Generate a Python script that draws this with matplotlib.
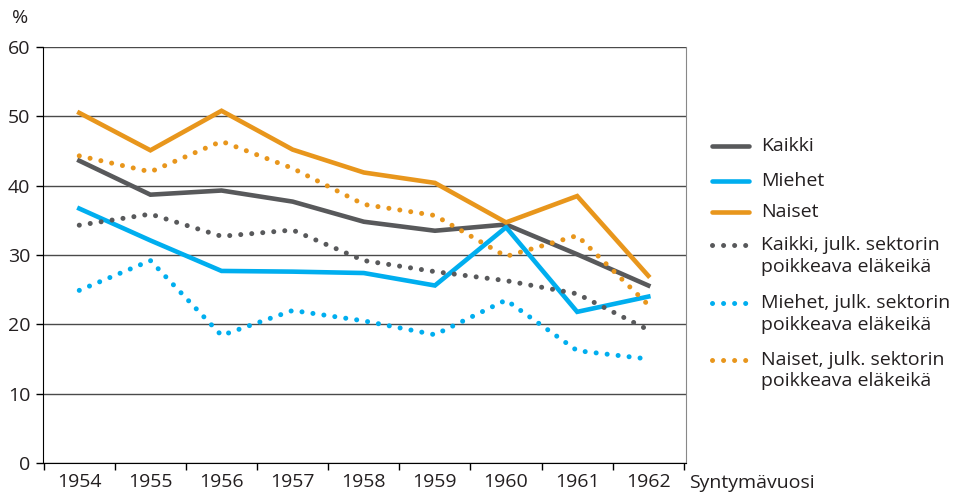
import matplotlib.pyplot as plt
from matplotlib.lines import Line2D
import numpy as np

plt.rcParams['font.family'] = ['Open Sans', 'DejaVu Sans']

years = ['1954', '1955', '1956', '1957', '1958', '1959', '1960', '1961', '1962']
kaikki = [43.6, 38.7, 39.3, 37.7, 34.8, 33.5, 34.4, 30.1, 25.6]
miehet = [36.7, 32.1, 27.7, 27.6, 27.4, 25.6, 34.0, 21.8, 24.0]
naiset = [50.5, 45.1, 50.8, 45.2, 41.9, 40.4, 34.7, 38.5, 27.0]
kaikki_julk = [34.3, 35.9, 32.7, 33.6, 29.2, 27.6, 26.3, 24.4, 19.2]
miehet_julk = [24.9, 29.2, 18.4, 22.0, 20.5, 18.5, 23.5, 16.2, 15.0]
naiset_julk = [44.3, 42.0, 46.4, 42.5, 37.3, 35.7, 29.8, 32.8, 22.8]

gray = '#58595b'
blue = '#00aeef'
orange = '#e8961c'
txt = '#231f20'

series = [
    ('Kaikki', kaikki, gray, '-'),
    ('Miehet', miehet, blue, '-'),
    ('Naiset', naiset, orange, '-'),
    ('Kaikki, julk. sektorin\npoikkeava eläkeikä', kaikki_julk, gray, ':'),
    ('Miehet, julk. sektorin\npoikkeava eläkeikä', miehet_julk, blue, ':'),
    ('Naiset, julk. sektorin\npoikkeava eläkeikä', naiset_julk, orange, ':'),
]

fig = plt.figure(figsize=(9.58, 4.97), dpi=100)
ax = fig.add_axes([43 / 958, 34 / 497, (686 - 43) / 958, (463 - 47) / 497])

x = np.arange(len(years))
dotted = (0, (0.01, 2.2))
solid_lw = 3.3
dot_lw = 3.6
for label, vals, col, ls in series:
    if ls == '-':
        ax.plot(x, vals, color=col, lw=solid_lw, solid_joinstyle='miter', zorder=3)
    else:
        ax.plot(x, vals, color=col, lw=dot_lw, linestyle=dotted,
                dash_capstyle='round', zorder=3)

ax.set_xlim(-0.51, 8.53)
ax.set_ylim(0, 60)
ax.set_yticks(range(0, 61, 10))
ax.yaxis.grid(True, color='#4a4a4a', lw=1)
ax.set_axisbelow(True)

ax.set_xticks(np.arange(-0.5, 9, 1))
ax.set_xticklabels([])
ax.set_xticks(x, minor=True)
ax.set_xticklabels(years, minor=True)
ax.tick_params(axis='x', which='major', length=5, width=1, color='black')
ax.tick_params(axis='x', which='minor', length=0, pad=7, labelsize=14, labelcolor=txt)
ax.tick_params(axis='y', length=5, width=1, color='black', pad=4, labelsize=14, labelcolor=txt)

ax.spines['top'].set_visible(False)
ax.spines['right'].set_color('#888888')
ax.spines['left'].set_color('black')
ax.spines['bottom'].set_color('black')

fig.text(12 / 958, 1 - 18 / 497, '%', fontsize=14, color=txt, va='center')
fig.text(689 / 958, 1 - 483 / 497, 'Syntymävuosi', fontsize=14, color=txt, va='center')

# legend drawn by hand so the marker sits beside the first text line
leg_y = [146, 181, 212, 245, 303, 360]
for (label, vals, col, ls), yy in zip(series, leg_y):
    yf = 1 - yy / 497
    if ls == '-':
        ln = Line2D([712 / 958, 749 / 958], [yf, yf], transform=fig.transFigure,
                    color=col, lw=solid_lw, solid_capstyle='round')
    else:
        ln = Line2D([712 / 958, 752 / 958], [yf, yf], transform=fig.transFigure,
                    color=col, lw=dot_lw, linestyle=dotted, dash_capstyle='round')
    fig.add_artist(ln)
    fig.text(761 / 958, yf + 9 / 497, label, fontsize=14, color=txt,
             va='top', ha='left', linespacing=1.25)

fig.savefig('out.png', dpi=100)
